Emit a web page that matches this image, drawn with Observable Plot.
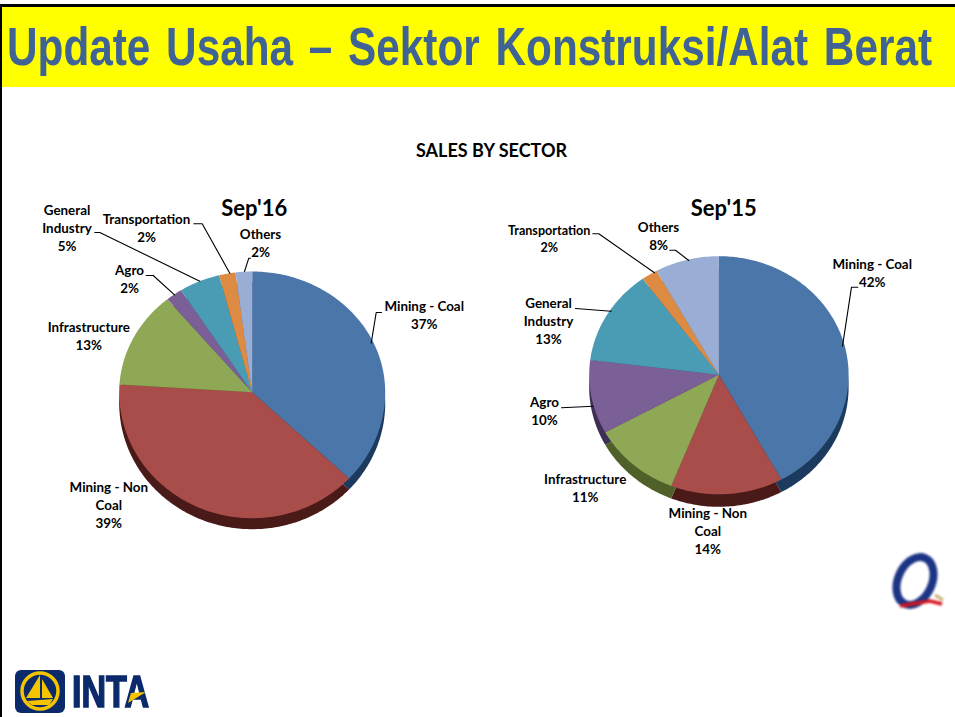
<!DOCTYPE html>
<html>
<head>
<meta charset="utf-8">
<script src="https://cdn.jsdelivr.net/npm/d3@7"></script>
<script src="https://cdn.jsdelivr.net/npm/@observablehq/plot@0.6"></script>
<style>
html,body{margin:0;padding:0;background:#fff}
#page{position:relative;width:955px;height:717px;overflow:hidden}
#edge{position:absolute;left:0;top:4px;bottom:0;width:2px;background:#000;z-index:3}
#band{margin-top:4px;height:80px;border-top:3px solid #000;background:#ffff00;overflow:hidden;position:relative}
#band h1{margin:0;position:absolute;left:7px;top:13px;white-space:nowrap;transform-origin:0 0;word-spacing:5px;
  font:700 53px/1 "Liberation Sans Narrow","Liberation Sans",sans-serif;color:#3f6394}
#chart svg{display:block}
#inta{position:absolute;left:72px;top:667px;font:700 44px/49px "Liberation Sans",sans-serif;
  color:#0b2a6b;-webkit-text-stroke:1.6px #0b2a6b;transform-origin:0 0;white-space:nowrap}
#logos{position:absolute;left:0;top:0;pointer-events:none}
</style>
</head>
<body>
<div id="page">
  <div id="edge"></div>
  <div id="band"><h1 id="title">Update Usaha – Sektor Konstruksi/Alat Berat</h1></div>
  <div id="chart"></div>
  <div id="inta">INTA</div>
  <svg id="logos" width="955" height="717" viewBox="0 0 955 717">
    <rect x="15" y="670" width="50" height="43" rx="6" fill="#0b2a6b"/>
    <circle cx="40" cy="691" r="18" fill="none" stroke="#f5c400" stroke-width="3.5"/>
    <path d="M40 675 L40 698 L26 698 Z M42 679 L53 698 L42 698 Z M27 701 L53 699 L49 705 L32 705 Z" fill="#f5c400"/>
    <path d="M128 703 L146 692 L131 693 Z" fill="#f5c400"/>
    <g style="filter:blur(0.9px)">
      <ellipse cx="915" cy="581" rx="17" ry="25" transform="rotate(24 915 581)" fill="none" stroke="#1c3484" stroke-width="8"/>
      <path d="M900 606 L930 601 L942 604" fill="none" stroke="#d8141c" stroke-width="3.5"/>
      <path d="M935 595 L943 600" fill="none" stroke="#c8b070" stroke-width="3"/>
    </g>
  </svg>
</div>
<script>
// ---- values ----
const sectors = ["Mining - Coal", "Mining - Non Coal", "Infrastructure", "Agro", "General Industry", "Transportation", "Others"];
const sep16 = [37, 39, 13, 2, 5, 2, 2];
const sep15 = [42, 14, 11, 10, 13, 2, 8];
const pieTitles = ["Sep'16", "Sep'15"];
const chartTitle = "SALES BY SECTOR";

// ---- styling ----
const faceColors = ["#4a76a9", "#a84d4a", "#8ea855", "#7b6097", "#4a9cb5", "#dd8a42", "#9aaed5"];
const rimColors  = ["#1b3a5e", "#4a1a18", "#4f6129", "#3f2f55", "#245f70", "#8a5020", "#5a6a8a"];

// ---- layout ----
const pieFrames = [
  {cx: 251.7, cy: 391.7, rx: 133, up: 120.7, down: 126, rim: 11},
  {cx: 718.4, cy: 374.3, rx: 129.7, up: 118.6, down: 119.5, rim: 12.5}
];
const wrapped = {"Mining - Non Coal": "Mining - Non\nCoal", "General Industry": "General\nIndustry"};
const labelSpots = [
  [[423.7, 313.8], [108.3, 503.8], [88.3, 335], [129, 278.2], [66.5, 227.2], [146, 226.8], [260, 241.5]],
  [[871.7, 271.8], [707.3, 529.5], [584.7, 486.8], [544, 410.2], [548, 320.2], [548.7, 237.3], [658, 235.2]]
];
const labelSizes = [
  [13.4, 13.4, 13.4, 13.4, 13.4, 13.4, 13.4],
  [13.4, 13.4, 13.4, 13.4, 13.4, 12.6, 13.4]
];
const titleSpots = [[253.7, 208.5], [723.3, 208.5]];
const leaders = [
  [[94.3,232],[99.3,232],[199.3,280.7]],
  [[193.3,223.3],[201.7,223.3],[229.3,272.7]],
  [[244,271],[248.3,257.7],[250,257.7]],
  [[145.7,275],[152.7,275],[174,294.3]],
  [[370.7,342.7],[375.7,312],[381,312]],
  [[592.3,233.3],[598.3,233.3],[654,272.3]],
  [[669.3,249.7],[675,249.7],[688.3,260]],
  [[842,345.7],[851,286.7],[857.3,286.7]],
  [[575,308],[610.7,310.7]],
  [[561,407.3],[592.7,405.7]]
];

// ---- slices from the values ----
function slicePolygons(values, frame, pieId, colors, shift) {
  const rows = [];
  let start = 0;
  const total = d3.sum(values);
  values.forEach((v, i) => {
    const end = start + v / total * 360;
    const id = `${pieId}-${i}-${shift}`;
    rows.push({id, fill: colors[i], px: frame.cx, py: frame.cy + shift});
    const steps = Math.max(2, Math.ceil(end - start));
    for (let s = 0; s <= steps; s++) {
      const a = (start + (end - start) * s / steps) * Math.PI / 180;
      const c = Math.cos(a);
      rows.push({
        id, fill: colors[i],
        px: frame.cx + Math.sin(a) * frame.rx,
        py: frame.cy + shift - c * (c > 0 ? frame.up : frame.down)
      });
    }
    start = end;
  });
  return rows;
}

const series = [sep16, sep15];
const rims = series.flatMap((v, k) => slicePolygons(v, pieFrames[k], k, rimColors, pieFrames[k].rim));
const faces = series.flatMap((v, k) => slicePolygons(v, pieFrames[k], k, faceColors, 0));
const labels = series.flatMap((v, k) => v.map((p, i) => ({
  text: `${wrapped[sectors[i]] || sectors[i]}\n${p}%`,
  x: labelSpots[k][i][0], y: labelSpots[k][i][1], size: labelSizes[k][i]
})));
const leaderRows = leaders.flatMap((pts, id) => pts.map(p => ({id, x: p[0], y: p[1]})));
const font = "Lato, 'Open Sans', sans-serif";

const chart = Plot.plot({
  width: 955,
  height: 630,
  margin: 0,
  x: {domain: [0, 955], axis: null},
  y: {domain: [717, 87], axis: null},
  style: {background: "transparent"},
  marks: [
    Plot.line(rims, {x: "px", y: "py", z: "id", fill: "fill", stroke: "none", imageFilter: "blur(0.5px)"}),
    Plot.line(faces, {x: "px", y: "py", z: "id", fill: "fill", stroke: "none", imageFilter: "blur(0.4px)"}),
    Plot.line(leaderRows, {x: "x", y: "y", z: "id", stroke: "#000", strokeWidth: 1.1}),
    Plot.text(labels, {x: "x", y: "y", text: "text", fontSize: "size", fontFamily: font, fontWeight: 700,
      lineHeight: 1.345, lineAnchor: "middle", fill: "#000"}),
    Plot.text(pieTitles, {x: (d, i) => titleSpots[i][0], y: (d, i) => titleSpots[i][1], text: d => d,
      fontSize: 22, fontFamily: font, fontWeight: 700, fill: "#000"}),
    Plot.text([chartTitle], {x: () => 491, y: () => 151, text: d => d, fontSize: 18, fontFamily: font, fontWeight: 700, fill: "#000"})
  ]
});
document.getElementById("chart").appendChild(chart);

// stretch the heading and the logotype to their widths in the slide
const fit = (id, w) => {
  const el = document.getElementById(id);
  el.style.transform = `scaleX(${w / el.getBoundingClientRect().width})`;
};
fit("title", 925);
fit("inta", 77);
</script>
</body>
</html>
